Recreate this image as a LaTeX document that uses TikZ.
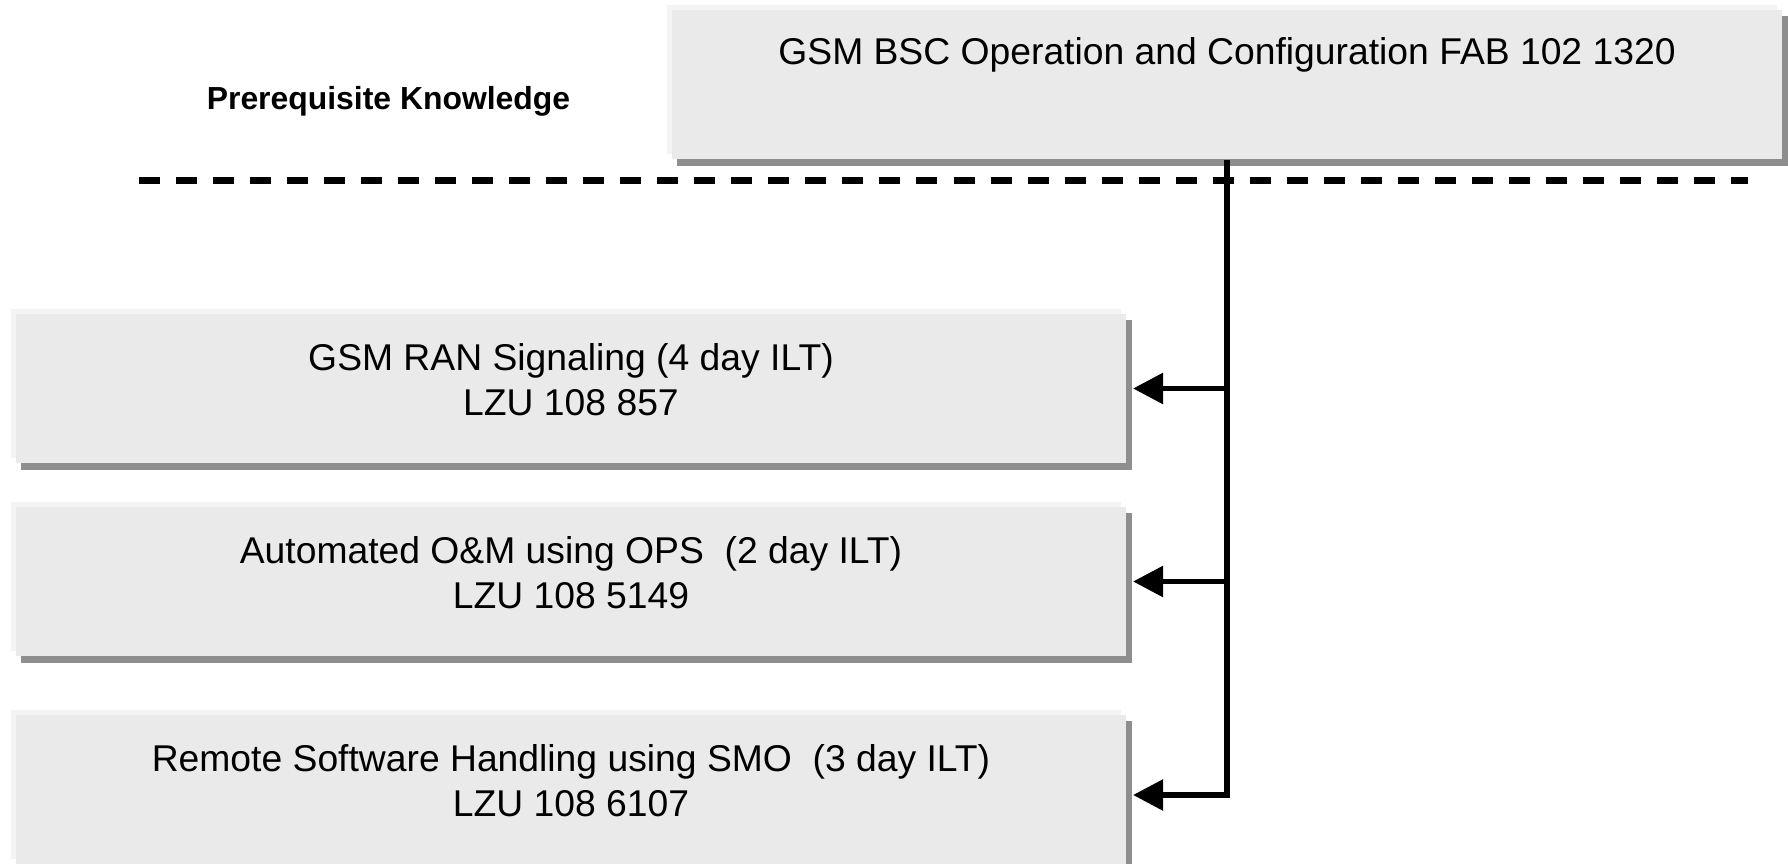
\documentclass[tikz,border=0pt]{standalone}
\usepackage{fontspec}
\setmainfont{Liberation Sans}
\usetikzlibrary{arrows.meta,shadows}
\definecolor{fond}{HTML}{EAEAEA}
\definecolor{reflet}{HTML}{F3F3F3}
\definecolor{ombre}{HTML}{8E8E8E}
\tikzset{
  boite/.style={rectangle, fill=fond, minimum width=11.1cm, minimum height=1.49cm, inner sep=0pt,
    general shadow={shadow xshift=-0.05cm, shadow yshift=0.05cm, fill=reflet},
    general shadow={shadow xshift=0.055cm, shadow yshift=-0.065cm, fill=ombre}},
  texte/.style={font=\fontsize{10.6pt}{12.8pt}\selectfont, align=center, anchor=base},
  fil/.style={line width=1.6pt},
  fleche/.style={fil, -{Triangle[length=0.3cm,width=0.3cm]}, shorten >=0.06cm}
}
\begin{document}
\begin{tikzpicture}[x=0.01cm, y=-0.01cm]%1 unite = 1 pixel, y vers le bas
            \useasboundingbox (0,0) rectangle (1788,864);
            \node [boite] (bsc) at (1227,84.5) {};
            \node [texte] (bsc-t) at ([yshift=0.195cm]bsc.center) {GSM BSC Operation and Configuration FAB 102 1320};
            \node [font=\bfseries\fontsize{9.07pt}{11pt}\selectfont, anchor=base] (prereq) at (388.5,110) {Prerequisite Knowledge};
            \draw [line width=2pt, dash pattern=on 0.21cm off 0.16cm] (139,180.5) -- (1748,180.5);
            \node [boite] (ran) at (571,388.5) {};
            \node [texte] (ran-t) at ([yshift=-0.265cm]ran.center) {GSM RAN Signaling (4 day ILT)\\LZU 108 857};%base = derniere ligne
            \node [boite] (ops) at (571,581.5) {};
            \node [texte] (ops-t) at ([yshift=-0.265cm]ops.center) {Automated O\&M using OPS\ \ (2 day ILT)\\LZU 108 5149};
            \node [boite] (smo) at (571,789.5) {};
            \node [texte] (smo-t) at ([yshift=-0.265cm]smo.center) {Remote Software Handling using SMO\ \ (3 day ILT)\\LZU 108 6107};
            \coordinate (smo-e) at ([yshift=-0.055cm]smo.east);
            \draw [fleche] (bsc.south) |- (smo-e);%tronc commun
            \draw [fleche] (bsc.south |- ran.east) -- (ran.east);
            \draw [fleche] (bsc.south |- ops.east) -- (ops.east);
        \end{tikzpicture}
\end{document}
